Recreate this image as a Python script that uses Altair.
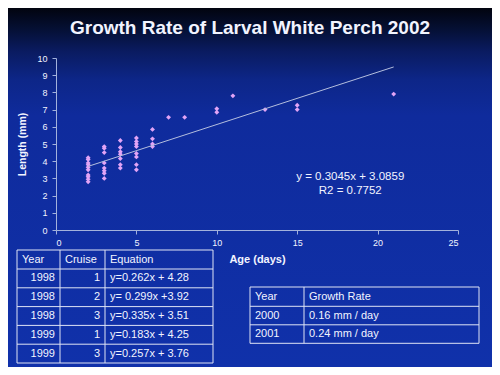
import altair as alt
import pandas as pd

# ---------------- data ----------------
title_text = ["Growth Rate of Larval White Perch 2002"]

ages = [2] * 10 + [3] * 8 + [4] * 7 + [5] * 8 + [6] * 4 + [7, 8, 10, 10, 11, 13, 15, 15, 21]
lengths = [4.2, 4.1, 3.9, 3.8, 3.65, 3.5, 3.2, 3.1, 2.95, 2.8,
           4.85, 4.75, 4.5, 3.9, 3.6, 3.45, 3.3, 3.0,
           5.2, 4.8, 4.55, 4.4, 4.15, 3.8, 3.6,
           5.35, 5.15, 5.0, 4.85, 4.45, 4.25, 3.8, 3.5,
           5.85, 5.3, 5.0, 4.85,
           6.55, 6.55, 7.05, 6.85, 7.8, 7.0, 7.25, 7.0, 7.9]

trend_age = [2, 21]
trend_len = [3.70, 9.48]

eq_lines = ["y = 0.3045x + 3.0859", "R2 = 0.7752"]
eq_age = [18.3, 18.3]
eq_len = [3.08, 2.24]

x_ticks = [0, 5, 10, 15, 20, 25]
y_ticks = [0, 1, 2, 3, 4, 5, 6, 7, 8, 9, 10]

t1_header = ["Year", "Cruise", "Equation"]
t1_year = ["1998", "1998", "1998", "1999", "1999"]
t1_cruise = ["1", "2", "3", "1", "3"]
t1_eq = ["y=0.262x + 4.28", "y= 0.299x +3.92", "y=0.335x + 3.51",
         "y=0.183x + 4.25", "y=0.257x + 3.76"]

t2_header = ["Year", "Growth Rate"]
t2_year = ["2000", "2001"]
t2_rate = ["0.16 mm / day", "0.24 mm / day"]

# ---------------- layout (pixels, relative to plot origin) ----------------
W, H = 402, 172
XMAX, YMAX = 25, 10
PAD = {"left": 48, "top": 50, "right": 34, "bottom": 137}
T1_COLS = [-39, 4, 49, 157]
T1_ROWS = [192, 211, 229.8, 248.6, 267.4, 286.2, 305]
T2_COLS = [194, 248, 423]
T2_ROWS = [229, 248.3, 266.8, 285.3]
FONT = "Liberation Sans"
WHITE = "#f2f4ff"
LINE = "#dfe4f5"
AXC = "#a3b2dc"


def px2x(px):
    return px * XMAX / W


def py2y(py):
    return YMAX - py * YMAX / H


# ---------------- background ----------------
grad = alt.LinearGradient(
    gradient="linear", x1=0, x2=0, y1=0, y2=1,
    stops=[
        alt.GradientStop(offset=0.0, color="#02040f"),
        alt.GradientStop(offset=0.06, color="#051035"),
        alt.GradientStop(offset=0.12, color="#0a1b60"),
        alt.GradientStop(offset=0.2, color="#0d2688"),
        alt.GradientStop(offset=0.3, color="#0f2b9c"),
        alt.GradientStop(offset=1.0, color="#1031aa"),
    ],
)
bg = alt.Chart(pd.DataFrame({"k": [0]})).mark_rect(fill=grad).encode(
    x=alt.value(-PAD["left"]), x2=alt.value(W + PAD["right"]),
    y=alt.value(-PAD["top"]), y2=alt.value(H + PAD["bottom"]),
)

title = alt.Chart(pd.DataFrame({"t": title_text})).mark_text(
    font=FONT, fontSize=19, fontWeight="bold", color=WHITE,
    align="center", baseline="middle",
).encode(x=alt.value(194), y=alt.value(-30), text="t:N")

# ---------------- main plot ----------------
xs = alt.Scale(domain=[0, XMAX], nice=False)
ys = alt.Scale(domain=[0, YMAX], nice=False)
xax = alt.Axis(values=x_ticks, zindex=3, labelOverlap=False, title="Age (days)")
yax = alt.Axis(values=y_ticks, zindex=3, labelOverlap=False, title="Length (mm)")


def X(f):
    return alt.X(f, scale=xs, axis=xax)


def Y(f):
    return alt.Y(f, scale=ys, axis=yax)


pts_df = pd.DataFrame({"age": ages, "len": lengths})
points = alt.Chart(pts_df).mark_point(
    shape="diamond", filled=True, color="#e2a4f6", size=24, opacity=1
).encode(x=X("age:Q"), y=Y("len:Q"))

trend = alt.Chart(pd.DataFrame({"age": trend_age, "len": trend_len})).mark_line(
    color="#b4bede", strokeWidth=1
).encode(x=X("age:Q"), y=Y("len:Q"))

eq = alt.Chart(pd.DataFrame({"age": eq_age, "len": eq_len, "t": eq_lines})).mark_text(
    font=FONT, fontSize=11.5, color=WHITE, align="center", baseline="middle"
).encode(x=X("age:Q"), y=Y("len:Q"), text="t:N")


# ---------------- tables ----------------
def grid(cols, rows):
    segs = []
    for r in rows:
        segs.append({"x1": px2x(cols[0]), "x2": px2x(cols[-1]), "y1": py2y(r), "y2": py2y(r)})
    for c in cols:
        segs.append({"x1": px2x(c), "x2": px2x(c), "y1": py2y(rows[0]), "y2": py2y(rows[-1])})
    return pd.DataFrame(segs)


def cells(texts, xpos, rows):
    recs = []
    for i, t in enumerate(texts):
        recs.append({"x": px2x(xpos), "y": py2y((rows[i] + rows[i + 1]) / 2), "t": t})
    return recs


def rule_layer(df):
    return alt.Chart(df).mark_rule(color=LINE, strokeWidth=1).encode(
        x=X("x1:Q"), x2="x2:Q", y=Y("y1:Q"), y2="y2:Q",
    )


def text_layer(recs, align):
    return alt.Chart(pd.DataFrame(recs)).mark_text(
        font=FONT, fontSize=11, color=WHITE, align=align, baseline="middle"
    ).encode(x=X("x:Q"), y=Y("y:Q"), text="t:N")


left1 = []
for j, h in enumerate(t1_header):
    left1.append({"x": px2x(T1_COLS[j] + 5), "y": py2y((T1_ROWS[0] + T1_ROWS[1]) / 2), "t": h})
left1 += cells([""] + t1_eq, T1_COLS[2] + 5, T1_ROWS)[1:]
right1 = cells([""] + t1_year, T1_COLS[1] - 5, T1_ROWS)[1:]
right1 += cells([""] + t1_cruise, T1_COLS[2] - 5, T1_ROWS)[1:]

left2 = cells([t2_header[0]] + t2_year, T2_COLS[0] + 5, T2_ROWS)
left2 += cells([t2_header[1]] + t2_rate, T2_COLS[1] + 5, T2_ROWS)

chart = alt.layer(
    bg, title, points, trend, eq,
    rule_layer(grid(T1_COLS, T1_ROWS)),
    rule_layer(grid(T2_COLS, T2_ROWS)),
    text_layer(left1, "left"),
    text_layer(right1, "right"),
    text_layer(left2, "left"),
).properties(
    width=W, height=H,
    autosize=alt.AutoSizeParams(type="none"),
    padding=PAD,
).configure(background="#0f2ea6").configure_view(stroke=None).configure_axis(
    grid=False, labelOverlap=False,
    labelFont=FONT, labelFontSize=9, labelColor=WHITE,
    domainColor=AXC, tickColor=AXC, tickSize=4,
    titleFont=FONT, titleFontWeight="bold", titleColor=WHITE,
).configure_axisX(
    labelPadding=4, titleFontSize=11, titlePadding=6,
).configure_axisY(
    labelPadding=5, titleFontSize=10.5, titlePadding=9,
)

chart.save("out.html", embed_options={"renderer": "svg", "actions": False})
